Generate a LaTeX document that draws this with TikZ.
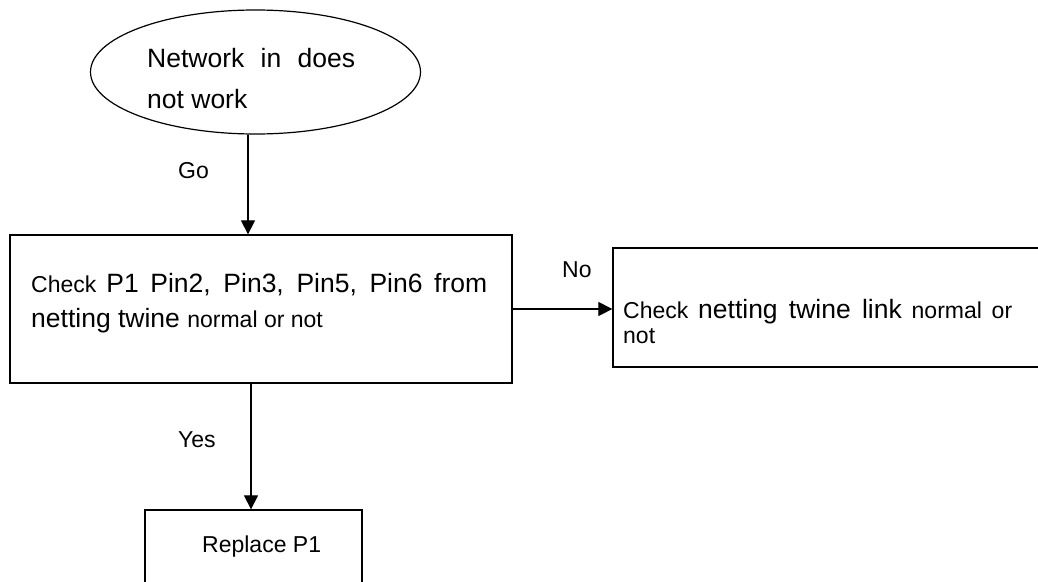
\documentclass[tikz,border=0pt]{standalone}
\usepackage{fontspec}
\setmainfont{Liberation Sans}
\usetikzlibrary{shapes.geometric,arrows.meta}
\tolerance=9999
\newcommand{\smallsize}[1][35]{\fontsize{23}{#1}\selectfont}
\newcommand{\largesize}[1][35]{\fontsize{26.5}{#1}\selectfont}
\tikzset{
  fcterminal/.style={ellipse, draw, line width=1.2pt, minimum width=330pt,
                     minimum height=124pt, inner sep=0pt},
  fcprocess/.style={rectangle, draw, line width=1.3pt, inner sep=0pt},
  fcarrow/.style={draw, line width=1.2pt, -{Triangle[width=14pt,length=14pt]}},
  fclabel/.style={anchor=base west, inner sep=0pt, font=\smallsize},
  fctext/.style={anchor=base west, inner sep=0pt, align=justify}
}

\begin{document}
\begin{tikzpicture}[x=1pt, y=-1pt]
  \useasboundingbox (0,0) rectangle (1038,581);
  \clip (0,0) rectangle (1038,581);
  \fill[white] (0,0) rectangle (1038,581);
  % The boxes; the two on the right and at the bottom run off the page.
  \node[fcterminal] (start) at (255.5,72) {};
  \node[fcprocess, minimum width=502pt, minimum height=148pt] (check) at (261,309) {};
  \node[fcprocess, minimum width=460pt, minimum height=119pt] (link) at (843,307.5) {};
  \node[fcprocess, minimum width=217pt, minimum height=120pt] (replace) at (253.5,570) {};
  % Texts, set left and justified as in a word processor.
  \node[fctext, text width=208pt, font={\largesize[41]}] (starttext) at (147,67)
    {Network in does\linebreak not work};
  \node[fctext, text width=456pt, font={\smallsize[35]}] (checktext) at (31,292)
    {Check \largesize P1 Pin2, Pin3, Pin5, Pin6 from\linebreak
     netting twine \smallsize normal or not};
  \node[fctext, text width=389pt, font={\smallsize[25]}] (linktext) at (623,318)
    {Check {\largesize netting twine link} normal or\linebreak not};
  \node[fclabel] (replacetext) at (202,552) {Replace P1};
  % Connectors and their labels.
  \draw[fcarrow] ([xshift=-7.5pt]start.south) -- ([xshift=-7.5pt]start.south |- check.north);
  \draw[fcarrow] (check.east) -- (check.east -| link.west);
  \draw[fcarrow] ([xshift=-10pt]check.south) -- ([xshift=-10pt]check.south |- replace.north);
  \node[fclabel] (golabel) at (178,178) {Go};
  \node[fclabel] (nolabel) at (562,277) {No};
  \node[fclabel] (yeslabel) at (178,447) {Yes};
\end{tikzpicture}
\end{document}
